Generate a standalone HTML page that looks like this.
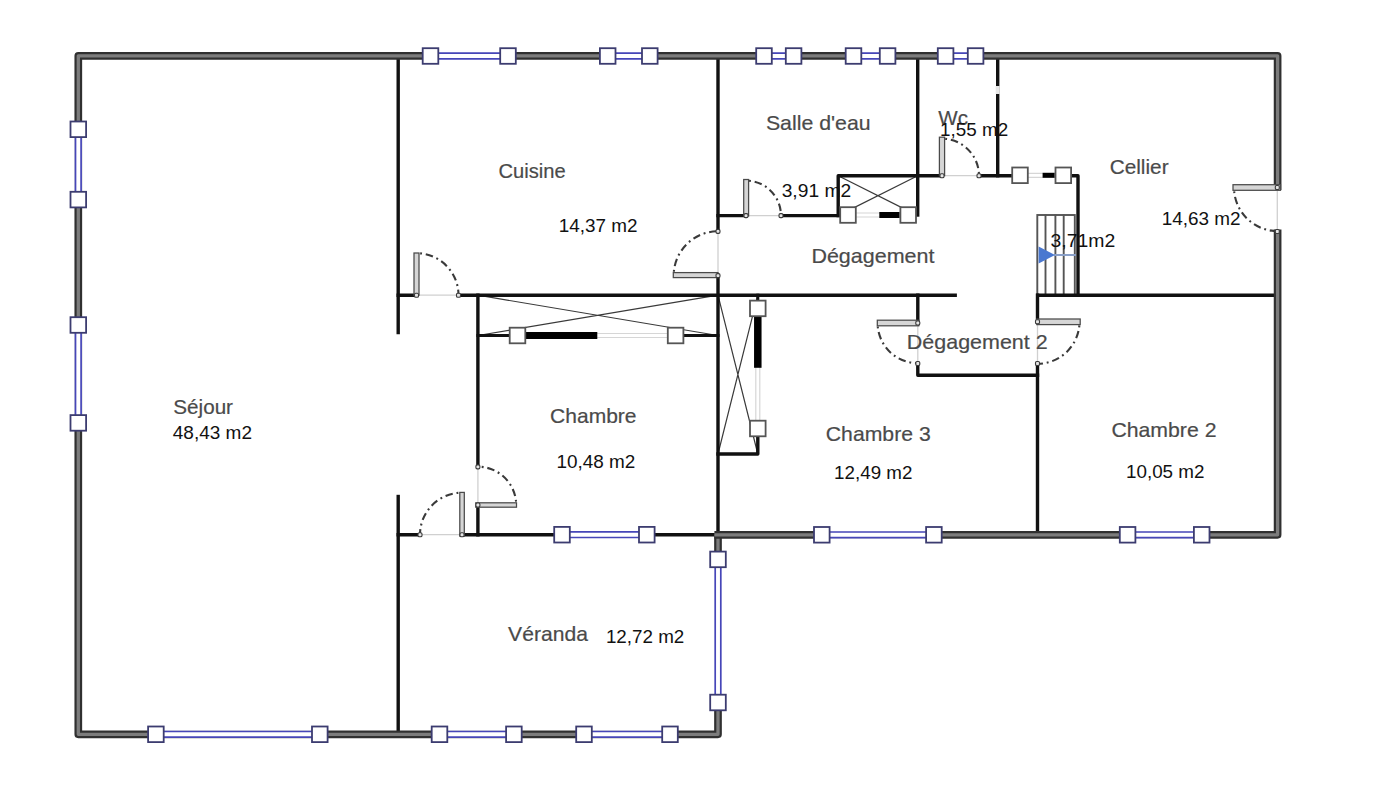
<!DOCTYPE html><html><head><meta charset="utf-8"><style>html,body{margin:0;padding:0;background:#fff;overflow:hidden}svg{display:block}</style></head><body>
<svg width="1400" height="793" viewBox="0 0 1400 793">
<rect width="1400" height="793" fill="#fff"/>
<path d="M478,295.2L717.9,335.5M717.9,295.2L478,335.5M718,295.2L757.8,454M757.8,295.2L718,454M838.2,175.7L917.7,215.6M917.7,175.7L838.2,215.6" stroke="#3a3a3a" stroke-width="1.2" fill="none"/>
<g stroke="#555" stroke-width="1.9" fill="none">
<rect x="1037.3" y="215" width="37.5" height="80"/>
<path d="M1045.5,214.6V295"/>
<path d="M1055.4,214.6V295"/>
<path d="M1063.7,214.6V295"/>
</g>
<path d="M1054,255H1076" stroke="#8aa0c8" stroke-width="2"/>
<path d="M1038.6,246.5L1055,255L1038.6,263.5Z" fill="#4a78d0"/>
<path d="M398.2,56V332.6" fill="none" stroke="#111" stroke-width="3.4" stroke-linecap="square" stroke-linejoin="round"/>
<path d="M398.2,496.5V734.3" fill="none" stroke="#111" stroke-width="3.4" stroke-linecap="square" stroke-linejoin="round"/>
<path d="M398.2,295.2H416.5M458.5,295.2H955.2" fill="none" stroke="#111" stroke-width="3.4" stroke-linecap="square" stroke-linejoin="round"/>
<path d="M477.9,295.2V466.9M477.9,505V534.7" fill="none" stroke="#111" stroke-width="3.4" stroke-linecap="square" stroke-linejoin="round"/>
<path d="M398.2,534.7H420M462,534.7H717.9" fill="none" stroke="#111" stroke-width="3.4" stroke-linecap="square" stroke-linejoin="round"/>
<path d="M718,56V231.4M718,275.6V534.8" fill="none" stroke="#111" stroke-width="3.4" stroke-linecap="square" stroke-linejoin="round"/>
<path d="M718,215.6H746M781,215.6H838.2" fill="none" stroke="#111" stroke-width="3.4" stroke-linecap="square" stroke-linejoin="round"/>
<path d="M838.2,215.6V175.7H942" fill="none" stroke="#111" stroke-width="3.4" stroke-linecap="square" stroke-linejoin="round"/>
<path d="M917.7,56V215" fill="none" stroke="#111" stroke-width="3.4" stroke-linecap="square" stroke-linejoin="round"/>
<path d="M979,175.7H1078V295.2" fill="none" stroke="#111" stroke-width="3.4" stroke-linecap="square" stroke-linejoin="round"/>
<path d="M997.7,56V175.7" fill="none" stroke="#111" stroke-width="3.4" stroke-linecap="square" stroke-linejoin="round"/>
<path d="M1038,295.2H1277" fill="none" stroke="#111" stroke-width="3.4" stroke-linecap="square" stroke-linejoin="round"/>
<path d="M1037.5,295.2V321.8M1037.5,363.5V534.8" fill="none" stroke="#111" stroke-width="3.4" stroke-linecap="square" stroke-linejoin="round"/>
<path d="M917.8,295.2V323M917.8,363.5V375.2H1037.5" fill="none" stroke="#111" stroke-width="3.4" stroke-linecap="square" stroke-linejoin="round"/>
<path d="M478,335.5H717.9" fill="none" stroke="#111" stroke-width="3.2" stroke-linecap="square" stroke-linejoin="round"/>
<path d="M718,454H757.8V437" fill="none" stroke="#111" stroke-width="3.4" stroke-linecap="square" stroke-linejoin="round"/>
<path d="M757.8,295.2V300" fill="none" stroke="#111" stroke-width="3" stroke-linecap="square" stroke-linejoin="round"/>
<path d="M997.7,86V94" stroke="#e8e8e8" stroke-width="4"/>
<path d="M1277.6,190V55.8H78.3V734.3H718V534.8" fill="none" stroke="#303030" stroke-width="7.7" stroke-linejoin="round" stroke-linecap="butt"/>
<path d="M1277.6,190V55.8H78.3V734.3H718V534.8" fill="none" stroke="#7c7c7c" stroke-width="3.3" stroke-linejoin="round" stroke-linecap="butt"/>
<path d="M714.4,534.8H1277.6V229.5" fill="none" stroke="#303030" stroke-width="7.7" stroke-linejoin="round" stroke-linecap="butt"/>
<path d="M714.4,534.8H1277.6V229.5" fill="none" stroke="#7c7c7c" stroke-width="3.3" stroke-linejoin="round" stroke-linecap="butt"/>
<path d="M416.5,295.2H458.5" fill="none" stroke="#d0d0d0" stroke-width="1.3"/>
<path d="M718,231.4V275.6" fill="none" stroke="#d0d0d0" stroke-width="1.3"/>
<path d="M746,215.6H781" fill="none" stroke="#d0d0d0" stroke-width="1.3"/>
<path d="M942,175.7H979" fill="none" stroke="#d0d0d0" stroke-width="1.3"/>
<path d="M1277.3,190V229.5" fill="none" stroke="#d0d0d0" stroke-width="1.3"/>
<path d="M917.8,323V363.5" fill="none" stroke="#d0d0d0" stroke-width="1.3"/>
<path d="M1037.5,321.8V363.5" fill="none" stroke="#d0d0d0" stroke-width="1.3"/>
<path d="M477.9,466.9V505" fill="none" stroke="#d0d0d0" stroke-width="1.3"/>
<path d="M420,534.7H462" fill="none" stroke="#d0d0d0" stroke-width="1.3"/>
<rect x="414" y="253" width="5" height="42.2" fill="#d6d6d6" stroke="#4a4a4a" stroke-width="1.25"/>
<path d="M420.16,253.36A42,42 0 0 1 458.50,295.20" fill="none" stroke="#3a3a3a" stroke-width="2.1" stroke-dasharray="1.9 3.8 7.5 3.8"/>
<rect x="414.5" y="293.2" width="4" height="4" rx="1.3" fill="#e6e6e6" stroke="#3a3a3a" stroke-width="1.1"/>
<rect x="456.5" y="293.2" width="4" height="4" rx="1.3" fill="#e6e6e6" stroke="#3a3a3a" stroke-width="1.1"/>
<rect x="673.3" y="272.6" width="44.7" height="5" fill="#d6d6d6" stroke="#4a4a4a" stroke-width="1.25"/>
<path d="M673.87,271.74A44.3,44.3 0 0 1 718.00,231.30" fill="none" stroke="#3a3a3a" stroke-width="2.1" stroke-dasharray="1.9 3.8 7.5 3.8"/>
<rect x="716" y="229.4" width="4" height="4" rx="1.3" fill="#e6e6e6" stroke="#3a3a3a" stroke-width="1.1"/>
<rect x="716" y="273.6" width="4" height="4" rx="1.3" fill="#e6e6e6" stroke="#3a3a3a" stroke-width="1.1"/>
<rect x="743.7" y="179.5" width="4.9" height="36.5" fill="#d6d6d6" stroke="#4a4a4a" stroke-width="1.25"/>
<path d="M749.05,180.73A35,35 0 0 1 781.00,215.60" fill="none" stroke="#3a3a3a" stroke-width="2.1" stroke-dasharray="1.9 3.8 7.5 3.8"/>
<rect x="744" y="213.6" width="4" height="4" rx="1.3" fill="#e6e6e6" stroke="#3a3a3a" stroke-width="1.1"/>
<rect x="779" y="213.6" width="4" height="4" rx="1.3" fill="#e6e6e6" stroke="#3a3a3a" stroke-width="1.1"/>
<rect x="939.4" y="137.2" width="5.2" height="38.5" fill="#d6d6d6" stroke="#4a4a4a" stroke-width="1.25"/>
<path d="M945.22,138.84A37,37 0 0 1 979.00,175.70" fill="none" stroke="#3a3a3a" stroke-width="2.1" stroke-dasharray="1.9 3.8 7.5 3.8"/>
<rect x="940" y="173.7" width="4" height="4" rx="1.3" fill="#e6e6e6" stroke="#3a3a3a" stroke-width="1.1"/>
<rect x="977" y="173.7" width="4" height="4" rx="1.3" fill="#e6e6e6" stroke="#3a3a3a" stroke-width="1.1"/>
<rect x="1233" y="184.7" width="47.5" height="5.6" fill="#d6d6d6" stroke="#4a4a4a" stroke-width="1.25"/>
<path d="M1234.17,191.30A43.6,43.6 0 0 0 1277.60,231.10" fill="none" stroke="#3a3a3a" stroke-width="2.1" stroke-dasharray="1.9 3.8 7.5 3.8"/>
<rect x="1275.3" y="185.5" width="4" height="4" rx="1.3" fill="#e6e6e6" stroke="#3a3a3a" stroke-width="1.1"/>
<rect x="1275.3" y="229.5" width="4" height="4" rx="1.3" fill="#e6e6e6" stroke="#3a3a3a" stroke-width="1.1"/>
<rect x="877.3" y="320.2" width="41.5" height="5.6" fill="#d6d6d6" stroke="#4a4a4a" stroke-width="1.25"/>
<path d="M877.75,326.50A40.2,40.2 0 0 0 917.80,363.20" fill="none" stroke="#3a3a3a" stroke-width="2.1" stroke-dasharray="1.9 3.8 7.5 3.8"/>
<rect x="915.8" y="321" width="4" height="4" rx="1.3" fill="#e6e6e6" stroke="#3a3a3a" stroke-width="1.1"/>
<rect x="915.8" y="361.5" width="4" height="4" rx="1.3" fill="#e6e6e6" stroke="#3a3a3a" stroke-width="1.1"/>
<rect x="1036.8" y="319" width="43.4" height="5.6" fill="#d6d6d6" stroke="#4a4a4a" stroke-width="1.25"/>
<path d="M1079.34,325.46A42,42 0 0 1 1037.50,363.80" fill="none" stroke="#3a3a3a" stroke-width="2.1" stroke-dasharray="1.9 3.8 7.5 3.8"/>
<rect x="1035.5" y="319.8" width="4" height="4" rx="1.3" fill="#e6e6e6" stroke="#3a3a3a" stroke-width="1.1"/>
<rect x="1035.5" y="361.5" width="4" height="4" rx="1.3" fill="#e6e6e6" stroke="#3a3a3a" stroke-width="1.1"/>
<rect x="475.8" y="502.8" width="40.7" height="4.4" fill="#d6d6d6" stroke="#4a4a4a" stroke-width="1.25"/>
<path d="M516.05,501.66A38.3,38.3 0 0 0 477.90,466.70" fill="none" stroke="#3a3a3a" stroke-width="2.1" stroke-dasharray="1.9 3.8 7.5 3.8"/>
<rect x="475.9" y="464.9" width="4" height="4" rx="1.3" fill="#e6e6e6" stroke="#3a3a3a" stroke-width="1.1"/>
<rect x="475.9" y="503" width="4" height="4" rx="1.3" fill="#e6e6e6" stroke="#3a3a3a" stroke-width="1.1"/>
<rect x="459.8" y="492.4" width="4.5" height="43.7" fill="#d6d6d6" stroke="#4a4a4a" stroke-width="1.25"/>
<path d="M458.34,492.86A42,42 0 0 0 420.00,534.70" fill="none" stroke="#3a3a3a" stroke-width="2.1" stroke-dasharray="1.9 3.8 7.5 3.8"/>
<rect x="418" y="532.7" width="4" height="4" rx="1.3" fill="#e6e6e6" stroke="#3a3a3a" stroke-width="1.1"/>
<rect x="460" y="532.7" width="4" height="4" rx="1.3" fill="#e6e6e6" stroke="#3a3a3a" stroke-width="1.1"/>
<rect x="430.5" y="52" width="77.5" height="8" fill="#fff"/>
<path d="M430.5,53.2H508M430.5,58.8H508" stroke="#4646b8" stroke-width="1.7" fill="none"/>
<rect x="422.70" y="48.20" width="15.6" height="15.6" fill="#fff" stroke="#3c3c70" stroke-width="1.8"/>
<rect x="500.20" y="48.20" width="15.6" height="15.6" fill="#fff" stroke="#3c3c70" stroke-width="1.8"/>
<rect x="607.7" y="52" width="42.09999999999991" height="8" fill="#fff"/>
<path d="M607.7,53.2H649.8M607.7,58.8H649.8" stroke="#4646b8" stroke-width="1.7" fill="none"/>
<rect x="599.90" y="48.20" width="15.6" height="15.6" fill="#fff" stroke="#3c3c70" stroke-width="1.8"/>
<rect x="642.00" y="48.20" width="15.6" height="15.6" fill="#fff" stroke="#3c3c70" stroke-width="1.8"/>
<rect x="764" y="52" width="29.600000000000023" height="8" fill="#fff"/>
<path d="M764,53.2H793.6M764,58.8H793.6" stroke="#4646b8" stroke-width="1.7" fill="none"/>
<rect x="756.20" y="48.20" width="15.6" height="15.6" fill="#fff" stroke="#3c3c70" stroke-width="1.8"/>
<rect x="785.80" y="48.20" width="15.6" height="15.6" fill="#fff" stroke="#3c3c70" stroke-width="1.8"/>
<rect x="853.5" y="52" width="34.10000000000002" height="8" fill="#fff"/>
<path d="M853.5,53.2H887.6M853.5,58.8H887.6" stroke="#4646b8" stroke-width="1.7" fill="none"/>
<rect x="845.70" y="48.20" width="15.6" height="15.6" fill="#fff" stroke="#3c3c70" stroke-width="1.8"/>
<rect x="879.80" y="48.20" width="15.6" height="15.6" fill="#fff" stroke="#3c3c70" stroke-width="1.8"/>
<rect x="945.6" y="52" width="30.0" height="8" fill="#fff"/>
<path d="M945.6,53.2H975.6M945.6,58.8H975.6" stroke="#4646b8" stroke-width="1.7" fill="none"/>
<rect x="937.80" y="48.20" width="15.6" height="15.6" fill="#fff" stroke="#3c3c70" stroke-width="1.8"/>
<rect x="967.80" y="48.20" width="15.6" height="15.6" fill="#fff" stroke="#3c3c70" stroke-width="1.8"/>
<rect x="74.3" y="129.3" width="8" height="70.29999999999998" fill="#fff"/>
<path d="M75.5,129.3V199.6M81.1,129.3V199.6" stroke="#4646b8" stroke-width="1.7" fill="none"/>
<rect x="70.50" y="121.50" width="15.6" height="15.6" fill="#fff" stroke="#3c3c70" stroke-width="1.8"/>
<rect x="70.50" y="191.80" width="15.6" height="15.6" fill="#fff" stroke="#3c3c70" stroke-width="1.8"/>
<rect x="74.3" y="325" width="8" height="97.89999999999998" fill="#fff"/>
<path d="M75.5,325V422.9M81.1,325V422.9" stroke="#4646b8" stroke-width="1.7" fill="none"/>
<rect x="70.50" y="317.20" width="15.6" height="15.6" fill="#fff" stroke="#3c3c70" stroke-width="1.8"/>
<rect x="70.50" y="415.10" width="15.6" height="15.6" fill="#fff" stroke="#3c3c70" stroke-width="1.8"/>
<rect x="155.9" y="730.3" width="163.9" height="8" fill="#fff"/>
<path d="M155.9,731.5H319.8M155.9,737.0999999999999H319.8" stroke="#4646b8" stroke-width="1.7" fill="none"/>
<rect x="148.10" y="726.50" width="15.6" height="15.6" fill="#fff" stroke="#3c3c70" stroke-width="1.8"/>
<rect x="312.00" y="726.50" width="15.6" height="15.6" fill="#fff" stroke="#3c3c70" stroke-width="1.8"/>
<rect x="439.5" y="730.3" width="74.39999999999998" height="8" fill="#fff"/>
<path d="M439.5,731.5H513.9M439.5,737.0999999999999H513.9" stroke="#4646b8" stroke-width="1.7" fill="none"/>
<rect x="431.70" y="726.50" width="15.6" height="15.6" fill="#fff" stroke="#3c3c70" stroke-width="1.8"/>
<rect x="506.10" y="726.50" width="15.6" height="15.6" fill="#fff" stroke="#3c3c70" stroke-width="1.8"/>
<rect x="584" y="730.3" width="86" height="8" fill="#fff"/>
<path d="M584,731.5H670M584,737.0999999999999H670" stroke="#4646b8" stroke-width="1.7" fill="none"/>
<rect x="576.20" y="726.50" width="15.6" height="15.6" fill="#fff" stroke="#3c3c70" stroke-width="1.8"/>
<rect x="662.20" y="726.50" width="15.6" height="15.6" fill="#fff" stroke="#3c3c70" stroke-width="1.8"/>
<rect x="714" y="559.4" width="8" height="143.10000000000002" fill="#fff"/>
<path d="M715.2,559.4V702.5M720.8,559.4V702.5" stroke="#4646b8" stroke-width="1.7" fill="none"/>
<rect x="710.20" y="551.60" width="15.6" height="15.6" fill="#fff" stroke="#3c3c70" stroke-width="1.8"/>
<rect x="710.20" y="694.70" width="15.6" height="15.6" fill="#fff" stroke="#3c3c70" stroke-width="1.8"/>
<rect x="821.8" y="530.8" width="112.10000000000002" height="8" fill="#fff"/>
<path d="M821.8,532.0H933.9M821.8,537.5999999999999H933.9" stroke="#4646b8" stroke-width="1.7" fill="none"/>
<rect x="814.00" y="527.00" width="15.6" height="15.6" fill="#fff" stroke="#3c3c70" stroke-width="1.8"/>
<rect x="926.10" y="527.00" width="15.6" height="15.6" fill="#fff" stroke="#3c3c70" stroke-width="1.8"/>
<rect x="1127.6" y="530.8" width="74.10000000000014" height="8" fill="#fff"/>
<path d="M1127.6,532.0H1201.7M1127.6,537.5999999999999H1201.7" stroke="#4646b8" stroke-width="1.7" fill="none"/>
<rect x="1119.80" y="527.00" width="15.6" height="15.6" fill="#fff" stroke="#3c3c70" stroke-width="1.8"/>
<rect x="1193.90" y="527.00" width="15.6" height="15.6" fill="#fff" stroke="#3c3c70" stroke-width="1.8"/>
<rect x="562" y="530.7" width="84.79999999999995" height="8" fill="#fff"/>
<path d="M562,531.9000000000001H646.8M562,537.5H646.8" stroke="#4646b8" stroke-width="1.7" fill="none"/>
<rect x="554.20" y="526.90" width="15.6" height="15.6" fill="#fff" stroke="#3c3c70" stroke-width="1.8"/>
<rect x="639.00" y="526.90" width="15.6" height="15.6" fill="#fff" stroke="#3c3c70" stroke-width="1.8"/>
<rect x="848" y="212" width="60.200000000000045" height="6" fill="#fff"/>
<path d="M848,213H908.2M848,217H908.2" stroke="#d6d6d6" stroke-width="1.2"/>
<path d="M879.3,215H899.6" stroke="#000" stroke-width="6"/>
<rect x="840.20" y="207.20" width="15.6" height="15.6" fill="#fff" stroke="#555" stroke-width="1.8"/>
<rect x="900.40" y="207.20" width="15.6" height="15.6" fill="#fff" stroke="#555" stroke-width="1.8"/>
<rect x="517.5" y="332.5" width="158.10000000000002" height="6" fill="#fff"/>
<path d="M517.5,333.5H675.6M517.5,337.5H675.6" stroke="#d6d6d6" stroke-width="1.2"/>
<path d="M526,335.5H597.3" stroke="#000" stroke-width="7"/>
<rect x="509.70" y="327.70" width="15.6" height="15.6" fill="#fff" stroke="#555" stroke-width="1.8"/>
<rect x="667.80" y="327.70" width="15.6" height="15.6" fill="#fff" stroke="#555" stroke-width="1.8"/>
<rect x="754.8" y="308.4" width="6" height="120.10000000000002" fill="#fff"/>
<path d="M755.8,308.4V428.5M759.8,308.4V428.5" stroke="#d6d6d6" stroke-width="1.2"/>
<path d="M757.8,316.5V367.8" stroke="#000" stroke-width="7.5"/>
<rect x="750.00" y="300.60" width="15.6" height="15.6" fill="#fff" stroke="#555" stroke-width="1.8"/>
<rect x="750.00" y="420.70" width="15.6" height="15.6" fill="#fff" stroke="#555" stroke-width="1.8"/>
<rect x="1020" y="172.3" width="43.299999999999955" height="6" fill="#fff"/>
<path d="M1020,173.3H1063.3M1020,177.3H1063.3" stroke="#d6d6d6" stroke-width="1.2"/>
<path d="M1042.6,175.3H1054.7" stroke="#000" stroke-width="5"/>
<rect x="1012.20" y="167.50" width="15.6" height="15.6" fill="#fff" stroke="#555" stroke-width="1.8"/>
<rect x="1055.50" y="167.50" width="15.6" height="15.6" fill="#fff" stroke="#555" stroke-width="1.8"/>
<g font-family="Liberation Sans, sans-serif">
<text x="498.5" y="177.8" font-size="21" fill="#4a4a4a" stroke="#4a4a4a" stroke-width="0.2" textLength="67.2" lengthAdjust="spacingAndGlyphs">Cuisine</text>
<text x="558.7" y="231.9" font-size="18.5" fill="#111" textLength="78.7" lengthAdjust="spacingAndGlyphs">14,37 m2</text>
<text x="765.9" y="129.5" font-size="21" fill="#4a4a4a" stroke="#4a4a4a" stroke-width="0.2" textLength="104.8" lengthAdjust="spacingAndGlyphs">Salle d'eau</text>
<text x="938.3" y="125" font-size="21" fill="#4a4a4a" stroke="#4a4a4a" stroke-width="0.2" textLength="29.7" lengthAdjust="spacingAndGlyphs">Wc</text>
<text x="940.1" y="135.7" font-size="18.5" fill="#111" textLength="68.1" lengthAdjust="spacingAndGlyphs">1,55 m2</text>
<text x="781.7" y="197.3" font-size="18.5" fill="#111" textLength="69.4" lengthAdjust="spacingAndGlyphs">3,91 m2</text>
<text x="1109.7" y="173.6" font-size="21" fill="#4a4a4a" stroke="#4a4a4a" stroke-width="0.2" textLength="58.9" lengthAdjust="spacingAndGlyphs">Cellier</text>
<text x="1161.7" y="225" font-size="18.5" fill="#111" textLength="78.9" lengthAdjust="spacingAndGlyphs">14,63 m2</text>
<text x="1050.5" y="246.9" font-size="18.5" fill="#111" textLength="64.8" lengthAdjust="spacingAndGlyphs">3,71m2</text>
<text x="811.4" y="263.4" font-size="21" fill="#4a4a4a" stroke="#4a4a4a" stroke-width="0.2" textLength="123.1" lengthAdjust="spacingAndGlyphs">Dégagement</text>
<text x="906.8" y="348.6" font-size="21" fill="#4a4a4a" stroke="#4a4a4a" stroke-width="0.2" textLength="140.9" lengthAdjust="spacingAndGlyphs">Dégagement 2</text>
<text x="173.3" y="413.5" font-size="21" fill="#4a4a4a" stroke="#4a4a4a" stroke-width="0.2" textLength="59.7" lengthAdjust="spacingAndGlyphs">Séjour</text>
<text x="172.8" y="439" font-size="18.5" fill="#111" textLength="79.2" lengthAdjust="spacingAndGlyphs">48,43 m2</text>
<text x="550.1" y="423.4" font-size="21" fill="#4a4a4a" stroke="#4a4a4a" stroke-width="0.2" textLength="86.4" lengthAdjust="spacingAndGlyphs">Chambre</text>
<text x="556.5" y="467.9" font-size="18.5" fill="#111" textLength="78.9" lengthAdjust="spacingAndGlyphs">10,48 m2</text>
<text x="825.8" y="441" font-size="21" fill="#4a4a4a" stroke="#4a4a4a" stroke-width="0.2" textLength="104.9" lengthAdjust="spacingAndGlyphs">Chambre 3</text>
<text x="834.1" y="478.6" font-size="18.5" fill="#111" textLength="78.3" lengthAdjust="spacingAndGlyphs">12,49 m2</text>
<text x="1111.4" y="437" font-size="21" fill="#4a4a4a" stroke="#4a4a4a" stroke-width="0.2" textLength="105.1" lengthAdjust="spacingAndGlyphs">Chambre 2</text>
<text x="1126.0" y="478.1" font-size="18.5" fill="#111" textLength="78.4" lengthAdjust="spacingAndGlyphs">10,05 m2</text>
<text x="508.1" y="640.7" font-size="21" fill="#4a4a4a" stroke="#4a4a4a" stroke-width="0.2" textLength="79.8" lengthAdjust="spacingAndGlyphs">Véranda</text>
<text x="605.9" y="642.9" font-size="18.5" fill="#111" textLength="78.4" lengthAdjust="spacingAndGlyphs">12,72 m2</text>
</g>
</svg></body></html>
